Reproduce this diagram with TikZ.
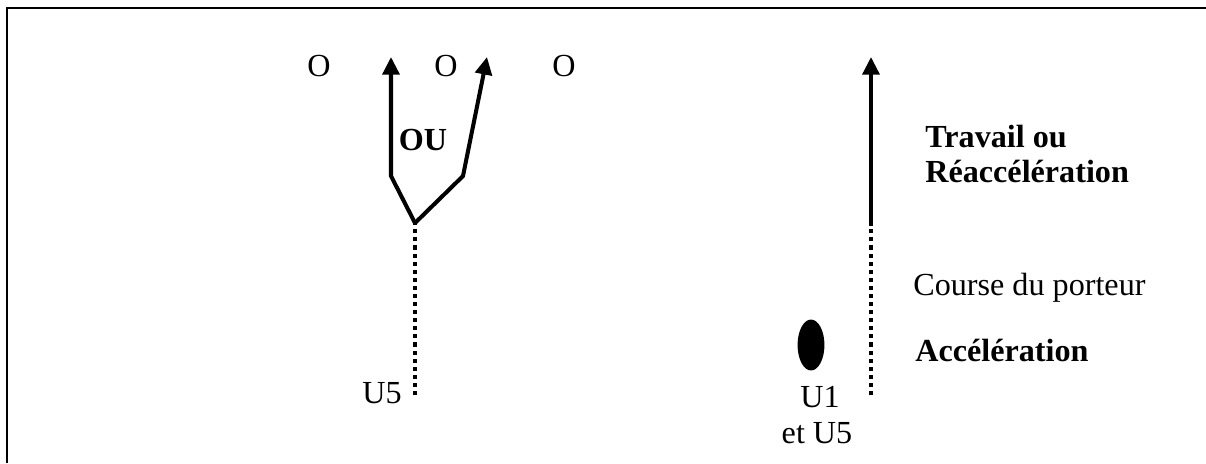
\documentclass[tikz,border=0pt]{standalone}
\usepackage{fontspec}
\setmainfont{Liberation Serif}
\usetikzlibrary{arrows.meta,positioning,shapes.geometric}
\tikzset{
  run/.style={-{Triangle[length=10pt,width=9.5pt]},line width=2.3pt,line join=miter},
  walk/.style={line width=2.3pt,dash pattern=on 2.3pt off 2.3pt},
  lbl/.style={inner sep=0pt,anchor=base},
  lblw/.style={inner sep=0pt,anchor=base west},
  every node/.style={font=\fontsize{18.3}{20}\selectfont}
}

\begin{document}
\begin{tikzpicture}[x=0.02cm,y=-0.02cm]
  \useasboundingbox (0,0) rectangle (1206,463);

  % Frame (top and left sides)
  \draw[line width=1.6pt] (7,463) -- (7,8) -- (1206,8);

  % Defenders
  \node[lbl] (o1) at (319,76) {O};
  \node[lbl] (o2) at (446,76) {O};
  \node[lbl] (o3) at (564,76) {O};

  % U5: run then choice
  \coordinate (u5start) at (415,395);
  \coordinate (fork) at (415,223);
  \coordinate (legl) at (391,176);
  \coordinate (legr) at (463,176);
  \coordinate (tipl) at (391,57);
  \coordinate (tipr) at (487,57);
  \draw[walk] (u5start) -- (fork);
  \draw[run] (fork) -- (legl) -- (tipl);
  \draw[run] (fork) -- (legr) -- (tipr);
  \node[lbl,font=\fontsize{18.3}{20}\selectfont\bfseries] (ou) at (423,150) {OU};
  \node[lbl] (u5) at (382,403) {U5};

  % Ball carrier
  \node[fill,ellipse,minimum width=15.3pt,minimum height=29pt,inner sep=0pt] (ball) at (811,345) {};
  \node[lbl] (u1) at (820,407) {U1};
  \node[lbl] (etu5) at (817,443) {et U5};

  \coordinate (pstart) at (871,395);
  \coordinate (pmid) at (871,225);
  \coordinate (ptip) at (871,57);
  \draw[walk] (pstart) -- (pmid);
  \draw[run] (pmid) -- (ptip);

  % Phases
  \node[lblw,font=\fontsize{18.3}{20}\selectfont\bfseries] (trav) at (925,147) {Travail ou};
  \node[lblw,font=\fontsize{18.3}{20}\selectfont\bfseries] (reac) at (925,182) {Réaccélération};
  \node[lblw] (course) at (913,295) {Course du porteur};
  \node[lblw,font=\fontsize{18.3}{20}\selectfont\bfseries] (accel) at (915,361) {Accélération};
\end{tikzpicture}
\end{document}
